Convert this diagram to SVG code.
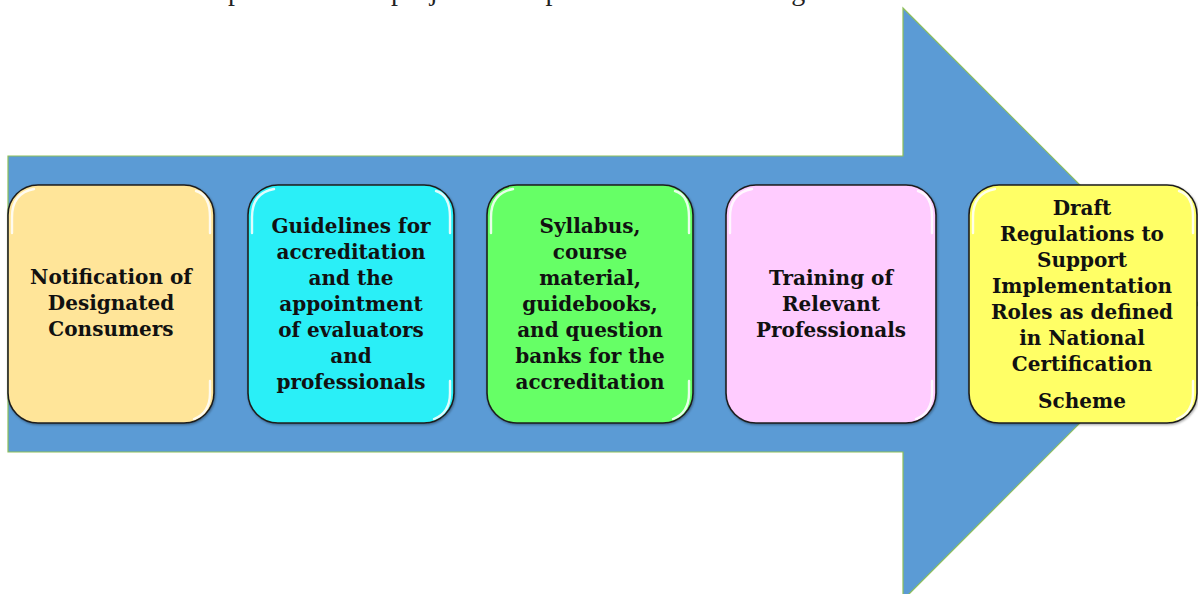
<svg xmlns="http://www.w3.org/2000/svg" width="1198" height="594" viewBox="0 0 1198 594">
  <defs>
    <style>
      .arrow { fill: #5B9BD5; stroke: #8DBF5A; stroke-width: 1.2; }
      .box { stroke: #1E1E1E; stroke-width: 1.6; }
      .gloss { fill: none; stroke: #FFFFFF; stroke-width: 2.4; stroke-linecap: round; opacity: 0.85; filter: url(#soft); }
      .label { font-family: "DejaVu Serif", "Liberation Serif", serif; font-weight: bold; font-size: 20px; fill: #111111; text-anchor: middle; }
      .caption { font-family: "Liberation Serif", "DejaVu Serif", serif; font-size: 28px; fill: #222222; }
    </style>
    <filter id="soft" x="-10%" y="-10%" width="120%" height="120%">
      <feGaussianBlur stdDeviation="0.6"/>
    </filter>
    <filter id="drop" x="-5%" y="-5%" width="115%" height="115%">
      <feDropShadow dx="0.8" dy="1.2" stdDeviation="0.8" flood-color="#000000" flood-opacity="0.35"/>
    </filter>
  </defs>

  <rect width="1198" height="594" fill="#FFFFFF"/>

  <!-- introductory sentence, running off the top edge -->
  <text class="caption" x="45" y="0" textLength="805" lengthAdjust="spacing">The various outputs from the project are represented in below figure.</text>

  <!-- block arrow behind the steps -->
  <g id="arrow">
    <path class="arrow" d="M8,156 H903 V8 L1199,304 L903,600 V452 H8 Z"/>
  </g>

  <g id="connectors"></g>

  <!-- step 1 -->
  <g id="step1" transform="translate(8,185)">
    <rect class="box" width="206" height="238" rx="30" fill="#FFE599" filter="url(#drop)"/>
    <path class="gloss" d="M4,48 V32 Q4,8 26,4"/>
    <path class="gloss" d="M202,48 V32 Q202,10 188,6"/>
    <path class="gloss" d="M202,196 V208 Q202,228 186,234"/>
    <text class="label"><tspan x="103" y="99">Notification of</tspan><tspan x="103" y="125">Designated</tspan><tspan x="103" y="151">Consumers</tspan></text>
  </g>

  <!-- step 2 -->
  <g id="step2" transform="translate(248,185)">
    <rect class="box" width="206" height="238" rx="30" fill="#2BEFF7" filter="url(#drop)"/>
    <path class="gloss" d="M4,48 V32 Q4,8 26,4"/>
    <path class="gloss" d="M202,48 V32 Q202,10 188,6"/>
    <path class="gloss" d="M202,196 V208 Q202,228 186,234"/>
    <text class="label"><tspan x="103" y="48">Guidelines for</tspan><tspan x="103" y="74">accreditation</tspan><tspan x="103" y="100">and the</tspan><tspan x="103" y="126">appointment</tspan><tspan x="103" y="152">of evaluators</tspan><tspan x="103" y="178">and</tspan><tspan x="103" y="204">professionals</tspan></text>
  </g>

  <!-- step 3 -->
  <g id="step3" transform="translate(487,185)">
    <rect class="box" width="206" height="238" rx="30" fill="#66FF66" filter="url(#drop)"/>
    <path class="gloss" d="M4,48 V32 Q4,8 26,4"/>
    <path class="gloss" d="M202,48 V32 Q202,10 188,6"/>
    <path class="gloss" d="M202,196 V208 Q202,228 186,234"/>
    <text class="label"><tspan x="103" y="48">Syllabus,</tspan><tspan x="103" y="74">course</tspan><tspan x="103" y="100">material,</tspan><tspan x="103" y="126">guidebooks,</tspan><tspan x="103" y="152">and question</tspan><tspan x="103" y="178">banks for the</tspan><tspan x="103" y="204">accreditation</tspan></text>
  </g>

  <!-- step 4 -->
  <g id="step4" transform="translate(726,185)">
    <rect class="box" width="210" height="238" rx="30" fill="#FFCCFF" filter="url(#drop)"/>
    <path class="gloss" d="M4,48 V32 Q4,8 26,4"/>
    <path class="gloss" d="M206,48 V32 Q206,10 192,6"/>
    <path class="gloss" d="M206,196 V208 Q206,228 190,234"/>
    <text class="label"><tspan x="105" y="100">Training of</tspan><tspan x="105" y="126">Relevant</tspan><tspan x="105" y="152">Professionals</tspan></text>
  </g>

  <!-- step 5 -->
  <g id="step5" transform="translate(969,185)">
    <rect class="box" width="228" height="238" rx="30" fill="#FFFF66" filter="url(#drop)"/>
    <path class="gloss" d="M4,48 V32 Q4,8 26,4"/>
    <path class="gloss" d="M224,48 V32 Q224,10 210,6"/>
    <path class="gloss" d="M224,196 V208 Q224,228 208,234"/>
    <text class="label"><tspan x="113" y="30">Draft</tspan><tspan x="113" y="56">Regulations to</tspan><tspan x="113" y="82">Support</tspan><tspan x="113" y="108">Implementation</tspan><tspan x="113" y="134">Roles as defined</tspan><tspan x="113" y="160">in National</tspan><tspan x="113" y="186">Certification</tspan><tspan x="113" y="223">Scheme</tspan></text>
  </g>
</svg>
